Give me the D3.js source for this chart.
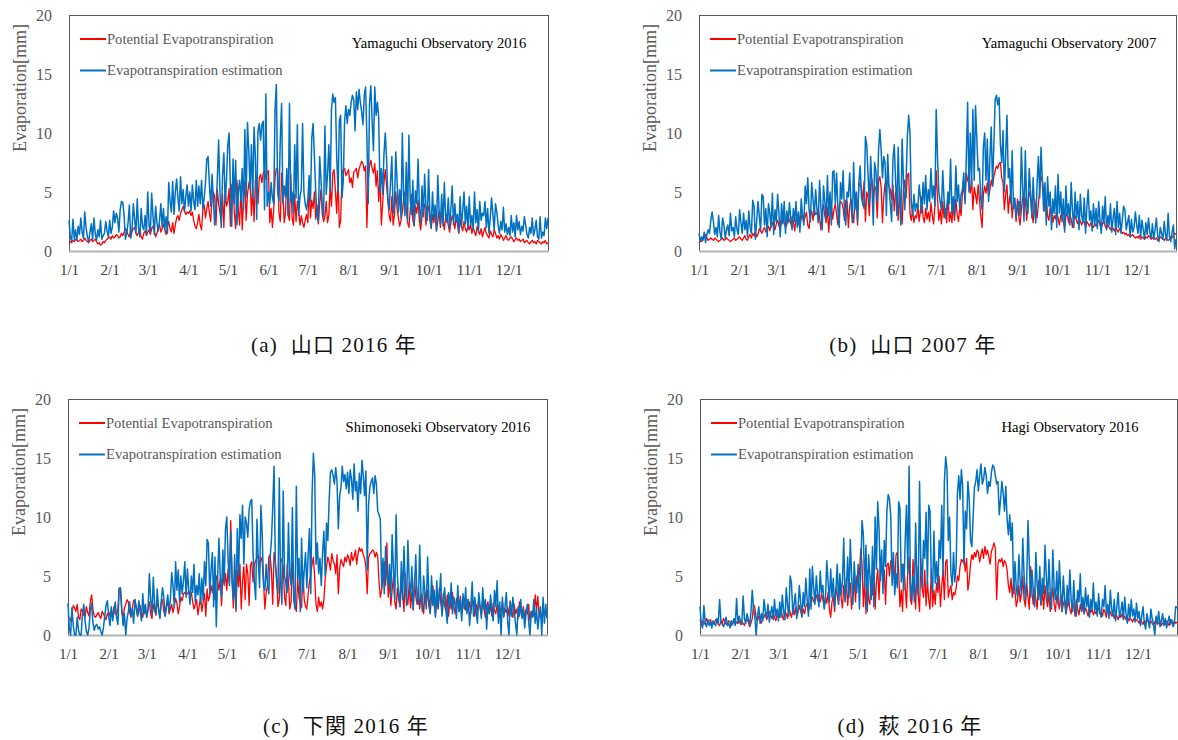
<!DOCTYPE html>
<html>
<head>
<meta charset="utf-8">
<script src="https://cdnjs.cloudflare.com/ajax/libs/d3/7.8.5/d3.min.js"></script>
<style>
  body { margin: 0; background: #fff; }
  svg text { font-family: "Liberation Serif", "Times New Roman", serif; }
  svg text.caption { font-family: "Liberation Serif", "Noto Sans CJK JP", serif; }
</style>
</head>
<body>
<svg width="1178" height="740"></svg>
<script>
// Daily values, one line per month (mm/day)

// (a) Yamaguchi 2016
var petYamaguchi2016 = [
  0.7,0.8,0.7,0.9,0.8,1.0,0.9,0.8,0.9,1.0,0.8,0.9,1.1,0.9,0.8,0.7,0.9,1.0,0.8,0.9,1.0,0.8,0.6,0.7,0.5,0.6,0.8,0.7,0.9,1.0,1.1,
  1.2,1.0,1.3,1.1,1.2,1.4,1.3,1.1,1.2,1.5,1.3,1.6,1.9,1.7,1.4,1.2,1.8,1.6,1.9,2.0,1.5,1.3,1.6,1.8,1.2,1.0,1.5,1.7,1.3,
  1.6,1.8,1.4,1.9,2.1,1.7,1.2,1.5,2.0,2.2,1.6,1.9,2.3,1.8,1.4,2.1,2.5,1.9,1.6,2.4,1.5,2.2,2.8,3.0,2.6,3.2,3.5,3.8,3.4,3.1,3.3,
  3.2,3.4,3.0,3.3,2.6,2.1,1.9,2.4,3.1,2.2,1.8,3.5,3.9,2.8,3.6,4.2,3.2,2.5,4.4,5.0,4.6,2.2,5.2,4.0,3.3,2.4,4.8,2.0,5.4,3.8,
  4.2,5.3,2.1,5.6,5.8,3.2,1.9,6.0,3.5,2.2,5.5,1.8,4.4,5.9,2.6,4.8,5.7,6.1,3.0,5.4,2.5,6.0,6.3,4.0,6.2,6.5,5.8,6.6,6.9,6.1,6.7,
  6.8,2.4,3.6,2.0,3.5,6.2,7.0,6.9,3.2,2.5,6.6,5.0,2.4,3.3,6.4,3.0,2.6,6.5,2.8,2.2,4.8,2.5,4.2,3.4,2.2,3.0,2.4,2.0,2.6,3.1,
  2.4,5.5,2.8,4.3,3.6,5.0,2.7,3.9,2.3,4.0,5.2,3.1,2.5,2.9,4.2,2.4,3.0,5.5,3.8,6.6,6.9,5.1,3.2,6.3,2.0,2.6,6.5,6.9,7.0,6.4,6.6,
  6.9,5.8,6.2,5.4,6.7,6.8,7.0,6.2,6.9,7.3,7.6,7.4,6.8,7.2,2.0,6.0,7.2,7.7,7.0,6.6,7.4,5.5,6.8,4.2,6.3,2.2,4.0,5.8,6.9,5.5,4.2,
  3.0,2.5,4.6,2.2,3.1,5.0,3.6,2.8,2.1,2.6,3.3,4.5,5.0,3.7,2.4,2.0,3.4,4.8,2.6,2.1,3.8,3.2,4.3,2.5,1.8,2.9,3.6,4.0,2.2,3.4,
  3.8,2.6,1.9,3.1,2.4,3.6,1.7,2.5,3.4,2.0,3.3,2.7,1.8,2.9,3.1,2.2,1.6,2.4,3.0,2.6,1.9,2.8,2.3,1.5,2.7,2.1,1.7,2.5,1.9,1.6,2.2,
  1.8,2.3,1.5,2.0,1.6,1.3,2.1,1.7,1.4,1.9,1.2,1.6,2.0,1.5,1.3,1.1,1.7,1.4,1.2,1.8,1.5,1.1,1.3,1.0,1.4,1.2,0.9,1.1,1.3,1.0,
  0.9,1.1,1.2,1.0,0.8,1.0,1.1,0.9,1.0,0.8,0.9,1.0,0.7,0.8,0.9,0.7,0.6,0.8,0.9,0.7,0.8,0.6,0.9,0.8,0.7,0.6,0.8,0.7,0.9,0.6,0.7
];
var estYamaguchi2016 = [
  2.6,1.2,0.8,2.7,1.0,1.8,0.9,2.1,1.4,2.8,1.6,1.1,3.3,2.0,1.2,0.8,1.6,2.3,1.0,2.8,1.5,0.9,1.8,1.2,2.6,1.0,1.3,1.5,2.5,1.7,1.2,
  2.6,1.5,2.0,3.4,2.4,3.2,2.8,1.6,3.5,4.2,4.1,3.0,1.0,1.5,2.4,3.9,1.1,1.8,4.0,2.7,1.5,4.4,2.0,1.2,3.6,2.1,1.8,3.0,1.4,
  5.0,2.2,1.6,4.9,3.0,1.4,3.8,2.4,1.7,2.6,4.0,2.0,3.6,1.8,2.9,1.5,5.8,4.2,3.3,5.9,3.1,5.0,6.1,4.5,3.4,6.3,4.0,5.2,3.3,4.6,5.6,
  3.8,5.0,3.4,5.6,4.2,3.5,6.0,3.8,5.5,4.0,6.0,3.6,4.5,5.8,7.8,8.0,5.6,3.8,6.5,4.3,2.2,3.9,6.0,9.4,5.1,2.0,6.4,8.3,4.0,6.0,
  9.0,10.0,5.4,2.1,7.8,4.0,7.7,2.2,5.0,6.0,4.2,7.0,3.5,10.3,4.6,10.9,8.5,5.2,9.0,4.5,10.5,8.0,2.7,10.2,10.8,9.4,10.7,11.0,3.5,13.3,3.8,
  5.0,4.0,5.8,4.5,4.0,12.0,14.1,5.0,4.2,9.5,12.5,4.0,5.5,4.6,7.0,3.0,12.5,4.2,5.0,3.2,9.0,4.5,10.7,3.0,4.6,5.2,10.8,5.0,4.0,3.5,
  4.3,6.4,4.2,9.6,10.8,8.0,5.0,3.0,2.5,8.0,6.1,3.8,2.9,10.6,4.8,6.5,9.0,5.0,12.0,13.3,12.6,13.0,8.0,5.0,11.0,11.5,4.5,6.0,11.0,12.3,10.8,
  12.0,11.5,12.6,13.2,12.8,10.2,13.5,12.0,13.7,12.6,11.8,10.7,13.2,13.9,9.6,4.0,12.5,14.0,11.0,8.5,13.9,11.5,12.6,11.3,5.0,7.0,4.8,8.2,10.0,7.8,4.4,
  3.5,5.8,8.0,3.2,4.0,8.4,5.9,3.3,5.2,2.8,10.0,4.6,3.0,7.5,2.5,9.8,4.3,3.1,6.0,2.2,5.1,4.0,7.8,3.6,2.4,5.5,2.9,6.5,3.8,2.6,
  6.9,3.2,2.0,5.0,2.8,3.9,1.7,6.4,3.5,2.3,4.8,2.1,5.8,3.0,2.4,4.5,1.9,3.6,5.5,2.2,4.0,2.5,3.1,1.6,4.6,2.0,3.4,5.0,2.3,3.8,1.8,
  4.6,2.2,3.0,1.8,5.0,2.4,3.5,1.6,4.2,2.6,3.2,3.0,4.2,2.0,3.6,1.5,2.8,4.5,3.1,1.8,4.0,3.3,2.2,1.5,2.5,1.8,3.7,1.6,2.3,1.4,
  2.0,1.3,3.0,1.6,2.4,1.2,3.0,1.8,2.5,1.4,2.1,1.7,2.9,2.2,1.4,1.1,2.0,1.5,2.8,1.3,1.8,2.6,1.2,1.0,2.9,1.1,1.6,1.3,2.8,1.9,2.8
];

// (b) Yamaguchi 2007
var petYamaguchi2007 = [
  0.7,0.9,0.8,1.0,1.2,1.4,1.1,0.9,1.0,1.1,1.0,0.9,1.1,1.0,0.9,0.8,0.9,1.0,1.1,0.9,1.0,1.1,1.0,0.9,0.8,0.9,1.0,1.1,0.9,1.0,1.1,
  1.2,1.0,0.9,1.1,1.3,1.0,0.9,1.2,1.4,1.1,1.5,1.3,1.6,1.2,1.4,1.9,1.7,1.5,1.8,2.0,1.6,1.9,2.1,1.7,2.2,2.4,2.0,1.8,
  2.3,2.6,2.1,1.9,2.5,2.8,2.4,2.0,2.2,3.0,2.6,2.3,2.9,2.5,1.7,2.7,3.1,2.4,2.0,2.8,3.2,2.5,2.9,3.3,2.2,1.9,3.0,3.4,2.6,3.5,3.1,
  3.2,3.6,2.8,1.8,3.4,3.9,3.0,2.4,3.7,1.6,3.3,3.8,2.7,3.5,4.0,3.1,2.2,3.9,4.2,4.1,3.6,2.6,4.3,4.2,2.0,3.8,4.4,3.3,2.4,4.0,
  4.5,2.2,5.8,5.6,5.4,4.1,5.9,2.5,5.0,4.6,3.0,5.6,6.1,4.4,5.5,5.2,2.8,5.9,6.3,5.4,2.4,4.6,5.7,6.0,5.8,5.5,5.2,4.4,5.6,3.4,5.0,
  4.8,2.6,5.5,3.5,2.3,5.2,6.0,4.5,6.4,6.6,3.2,2.6,3.5,2.4,3.0,2.8,3.9,2.5,3.4,4.6,2.9,2.4,3.6,2.7,3.3,2.5,4.1,3.0,2.3,3.8,
  6.8,4.5,2.6,3.5,2.3,4.2,2.8,3.6,2.4,4.8,2.5,3.3,2.4,3.9,2.6,4.4,3.1,2.5,3.8,3.0,4.9,5.5,4.3,6.6,6.0,5.7,4.9,6.2,3.5,5.4,4.8,
  4.0,5.6,4.4,3.0,2.0,4.8,5.5,4.9,5.8,4.6,5.2,6.0,5.5,6.3,6.8,7.2,7.0,7.4,7.5,6.2,5.8,3.5,4.8,5.6,3.2,4.5,5.0,2.8,4.2,3.9,2.5,
  4.4,3.0,2.2,3.5,4.6,4.0,4.5,2.6,3.9,5.0,4.6,3.2,2.4,4.4,3.6,2.8,4.0,5.2,6.3,6.0,5.1,3.4,4.3,3.0,2.6,3.7,3.2,2.4,3.0,2.7,
  3.4,2.8,2.2,3.0,3.2,2.5,1.9,2.9,3.3,2.4,3.1,2.7,2.0,2.8,3.0,2.6,2.3,2.9,2.5,2.2,2.6,2.4,2.0,2.5,2.3,2.1,2.4,2.2,2.0,2.3,2.1,
  2.4,2.6,2.2,2.0,2.3,2.5,2.1,1.9,2.2,2.0,1.8,2.1,1.9,1.7,2.0,1.8,1.6,1.9,1.7,1.5,1.6,1.4,1.5,1.3,1.4,1.2,1.3,1.4,1.2,1.1,
  1.2,1.1,1.3,1.0,1.2,1.1,1.0,1.2,1.1,1.3,1.2,1.0,1.1,1.2,1.0,1.1,0.9,1.0,1.2,1.1,1.0,0.9,1.1,1.0,0.9,1.0,1.2,1.1,1.3,1.5,1.4
];
var estYamaguchi2007 = [
  1.5,0.8,1.2,0.9,1.6,0.7,1.4,1.8,1.5,2.6,3.3,2.5,1.4,2.0,1.2,3.0,1.6,1.0,2.8,2.2,1.1,1.8,2.2,1.3,3.2,1.7,2.0,1.2,2.9,1.8,1.4,
  3.5,2.4,1.5,3.2,1.8,2.6,1.2,3.4,2.0,1.5,4.3,3.8,1.0,2.5,4.2,3.0,1.7,4.8,4.6,2.2,3.6,1.2,4.0,3.2,2.0,4.9,1.4,3.5,
  2.5,4.8,3.2,1.2,4.0,2.3,4.2,1.5,3.4,2.4,4.1,2.8,1.8,3.6,2.5,4.2,2.0,3.3,1.6,4.4,3.0,2.2,5.5,4.0,6.2,3.5,2.5,5.8,4.4,3.0,5.2,
  3.6,2.4,6.0,3.8,1.8,5.5,4.2,2.6,6.4,3.0,5.0,2.2,6.7,6.8,4.0,6.6,3.5,2.0,5.8,4.4,6.8,3.3,2.2,5.0,4.6,6.6,4.0,2.4,7.5,3.5,
  5.0,2.5,5.8,7.2,4.5,4.0,3.6,9.7,9.0,6.5,4.0,8.0,5.5,2.2,7.5,6.8,4.2,8.5,10.3,8.5,6.2,8.0,7.5,3.0,8.2,5.4,4.0,2.5,7.8,9.0,6.0,
  3.0,8.8,4.5,2.2,9.5,6.0,3.5,5.8,9.7,11.5,10.0,4.2,3.0,4.8,3.4,4.0,3.6,5.6,4.5,3.2,5.8,4.0,6.4,3.5,5.2,4.2,7.0,4.5,5.5,3.8,
  12.0,8.0,5.0,4.2,3.5,6.8,4.4,2.8,3.6,5.0,4.0,7.8,3.2,4.6,3.0,7.2,4.2,5.6,3.5,4.8,5.2,6.6,4.0,8.0,12.6,5.0,10.0,5.5,12.0,6.0,12.3,
  9.5,6.8,7.0,4.5,3.5,8.8,10.0,6.0,9.5,4.2,8.0,10.5,5.5,9.0,12.8,13.2,12.4,13.0,9.0,7.5,10.2,5.0,8.0,11.5,6.2,7.0,4.0,8.5,3.6,4.5,2.8,
  3.8,4.2,3.0,8.8,5.5,2.5,8.5,4.0,3.2,7.0,5.0,2.8,6.2,3.6,2.4,5.8,8.0,4.5,8.8,6.0,3.4,5.8,2.2,6.3,3.8,5.0,1.8,4.4,3.2,5.5,
  2.0,6.5,3.2,5.0,2.5,4.4,1.6,5.5,3.0,4.0,2.2,5.8,3.4,2.0,5.0,2.8,4.2,1.8,4.8,3.0,2.4,4.5,1.5,3.8,5.2,2.6,3.4,1.7,4.0,2.2,3.6,
  1.9,4.2,2.6,1.5,3.8,2.4,4.6,1.8,3.0,2.2,4.0,1.6,2.8,3.6,1.4,4.2,2.0,3.2,1.5,2.6,3.8,3.5,1.8,2.4,3.0,1.2,2.7,1.6,2.0,3.3,
  2.2,1.5,3.0,1.2,2.6,1.8,1.0,2.4,1.4,2.8,1.6,1.1,2.3,1.0,1.8,2.8,1.3,0.8,2.0,1.5,1.0,2.5,1.4,0.9,3.2,1.2,0.8,1.6,2.2,0.2,1.0
];

// (c) Shimonoseki 2016
var petShimonoseki2016 = [
  1.6,1.4,1.2,1.8,2.5,2.3,2.0,2.6,1.5,1.3,2.2,2.0,1.7,1.5,2.4,1.9,1.6,2.8,3.4,2.2,1.6,1.5,1.7,1.9,1.6,1.4,2.0,1.8,1.5,1.3,1.8,
  1.6,1.9,2.1,1.5,2.4,1.8,1.7,2.2,4.0,3.8,1.9,1.5,2.3,2.6,3.0,2.8,1.9,1.5,2.3,2.9,3.0,2.2,1.6,2.0,2.5,1.9,1.5,2.4,2.0,
  1.6,2.2,2.8,1.8,1.4,2.6,2.1,1.7,2.9,2.3,1.5,2.7,3.0,2.0,1.6,2.4,2.9,1.8,2.2,2.6,1.9,2.5,3.1,2.7,1.8,2.4,3.2,2.9,3.5,3.6,3.4,
  3.5,3.7,3.3,3.6,2.8,2.2,2.6,3.0,1.7,2.5,3.2,2.0,2.8,3.5,1.6,3.9,2.9,3.3,4.2,3.6,4.5,3.0,5.0,4.6,3.8,4.8,2.5,5.4,4.2,5.2,
  3.8,5.6,4.4,9.7,5.0,2.3,4.8,2.0,5.5,4.1,6.0,2.2,4.6,5.8,3.0,6.0,5.2,2.5,5.9,6.2,4.5,6.0,6.3,6.5,6.8,5.7,6.6,6.2,4.5,2.2,3.6,
  4.2,6.6,6.8,5.5,2.6,7.0,6.2,4.8,2.4,3.0,6.5,6.3,5.8,3.2,2.5,6.0,4.5,2.2,2.8,6.2,3.8,2.4,2.0,4.8,3.2,2.6,2.3,5.4,3.0,2.4,
  2.2,3.5,4.5,5.2,6.0,6.6,4.8,2.6,2.0,3.2,2.4,2.8,2.2,3.0,4.8,5.8,6.6,6.2,5.5,6.9,6.3,6.0,5.2,6.8,3.5,5.6,6.4,6.1,5.8,6.6,6.2,
  6.8,6.5,5.9,7.0,6.3,6.6,7.2,6.0,6.9,7.4,7.1,7.3,6.8,6.5,5.8,3.5,6.5,6.9,7.0,7.2,7.1,6.6,7.0,6.7,4.5,3.2,3.8,5.0,6.2,4.2,7.8,
  3.2,4.6,2.5,3.8,5.0,2.8,2.2,4.0,3.0,2.4,4.2,3.5,2.0,5.2,3.1,2.6,4.4,2.3,3.6,2.1,4.8,3.3,2.6,4.0,2.2,3.5,2.9,1.8,3.6,2.7,
  3.8,2.4,1.9,3.2,4.2,2.6,1.7,3.0,2.3,4.0,2.8,1.8,3.5,2.5,2.0,3.4,1.6,2.9,2.2,3.6,2.4,1.8,3.1,2.6,2.0,3.3,1.7,2.5,2.9,2.1,3.0,
  2.2,2.8,1.8,3.1,2.4,1.6,2.6,2.0,3.0,2.3,1.7,2.9,2.2,1.5,2.5,2.8,1.9,2.4,1.6,2.7,2.1,1.8,2.6,1.4,2.3,2.0,2.8,1.5,2.2,1.9,
  2.4,1.6,2.9,2.0,1.5,2.6,1.8,2.2,1.4,2.8,2.0,1.5,2.4,1.3,2.2,1.8,2.6,1.2,2.0,2.0,1.6,3.4,2.1,3.3,1.5,1.9,1.2,2.4,1.6,2.0,1.5
];
var estShimonoseki2016 = [
  2.7,0.6,0.0,2.3,0.8,0.0,0.0,1.5,0.4,0.0,0.0,1.8,2.6,1.2,0.3,0.0,0.6,2.1,2.7,1.0,0.4,0.8,0.9,0.5,0.7,0.3,0.0,0.6,1.6,2.5,2.9,
  1.6,0.8,2.4,1.2,2.0,2.8,1.5,0.9,3.9,4.0,2.2,0.8,1.8,0.0,1.4,2.0,2.8,1.6,2.2,1.0,3.0,2.4,1.6,2.9,2.0,1.2,3.5,1.8,2.6,
  1.5,2.2,5.2,3.0,1.8,4.9,2.5,1.7,3.9,2.2,1.4,2.8,4.0,3.2,1.6,2.5,3.4,2.0,3.0,5.3,4.2,2.4,6.2,3.8,5.5,2.8,5.0,3.5,4.6,6.2,3.2,
  5.6,3.8,2.6,5.0,3.6,6.0,2.8,4.2,3.4,5.2,2.6,4.8,3.0,6.2,4.2,8.1,7.8,3.5,5.5,7.0,2.4,6.6,0.7,4.8,8.2,5.0,3.2,7.2,4.4,9.0,
  10.0,6.4,4.2,8.8,4.5,3.0,6.8,2.2,9.0,5.0,10.2,8.2,11.0,6.0,10.0,9.5,8.3,10.6,11.3,11.5,7.0,4.5,3.0,9.8,6.2,4.0,11.0,8.5,4.2,3.8,6.0,
  4.3,3.5,6.5,8.0,10.8,14.3,6.0,4.5,3.5,13.3,4.5,2.6,12.2,5.0,4.4,3.6,9.5,5.0,4.2,10.8,3.0,2.2,12.6,4.8,6.5,2.0,8.2,3.6,5.5,7.0,
  4.0,6.8,9.0,3.5,12.0,15.4,13.5,6.0,7.8,5.2,6.5,4.2,7.0,8.8,5.0,9.5,8.0,11.5,13.8,14.0,13.5,12.8,14.2,13.0,9.0,11.8,12.5,14.3,13.0,13.6,12.4,
  13.8,12.0,14.0,13.2,11.5,14.5,12.2,13.0,10.5,13.7,12.0,14.8,13.5,11.8,13.9,5.5,11.0,12.5,13.0,13.3,12.0,13.5,12.8,10.5,10.2,9.8,4.0,6.5,3.5,7.5,5.0,
  4.2,6.0,3.2,8.5,5.5,3.0,10.2,5.0,3.5,2.4,6.2,3.0,7.5,4.2,2.5,8.0,4.6,3.2,5.8,2.2,4.0,6.8,3.0,2.6,7.6,3.4,2.0,5.0,3.6,2.2,
  6.6,3.2,1.8,5.0,2.5,3.8,1.5,4.6,2.2,3.4,5.2,1.6,3.0,4.0,2.0,1.0,3.6,2.4,4.4,1.8,3.2,2.6,1.4,4.2,2.0,3.0,1.2,3.5,2.2,4.0,1.8,
  3.0,0.8,2.4,4.5,1.6,3.2,2.0,1.0,3.6,2.5,1.4,4.0,2.2,3.0,0.5,2.6,1.8,3.4,2.0,1.2,3.8,2.4,4.6,1.0,2.8,0.0,3.2,1.6,2.4,3.6,
  1.2,0.0,2.8,1.6,3.2,2.0,1.0,0.0,2.4,1.6,3.0,1.4,2.2,0.6,1.8,2.6,1.2,0.0,2.0,1.5,3.0,1.0,2.2,0.5,1.6,2.4,0.0,3.2,1.0,2.6,1.4
];

// (d) Hagi 2016
var petHagi2016 = [
  1.3,1.0,1.2,0.9,1.1,1.4,1.0,1.2,1.3,0.9,1.1,1.0,1.3,1.2,0.9,0.8,1.2,1.0,1.4,1.1,0.9,1.0,1.2,1.1,0.8,1.0,1.2,0.9,1.1,1.0,1.2,
  0.9,1.1,1.0,0.8,1.2,1.3,1.1,0.7,1.0,1.4,2.6,2.3,1.4,1.2,1.6,1.3,1.0,1.4,1.5,1.8,1.3,1.6,2.0,1.7,1.4,1.9,1.5,1.2,1.7,
  1.8,1.5,2.2,1.6,1.3,2.0,1.8,1.4,2.4,1.9,1.5,2.1,1.7,2.3,1.6,1.9,2.5,2.0,1.6,2.2,1.8,2.4,2.7,2.0,2.5,3.0,3.2,2.8,3.1,3.4,2.9,
  3.3,2.8,3.5,3.0,2.4,3.2,2.7,3.6,2.2,1.5,2.8,3.3,2.0,4.0,3.4,2.6,4.5,3.1,2.3,4.2,3.0,4.8,2.5,3.8,4.4,2.2,3.6,4.6,2.8,5.0,
  4.2,5.2,7.3,6.0,2.4,4.8,1.8,5.5,3.0,2.6,5.0,3.4,6.2,2.2,4.5,5.6,3.0,5.8,6.0,4.6,5.5,2.6,5.9,6.1,5.0,6.3,5.6,6.0,4.2,6.8,7.0,
  5.5,2.4,3.8,2.0,6.0,4.2,2.3,5.5,6.6,3.0,2.6,6.4,4.8,2.2,5.8,3.4,2.0,6.5,4.0,3.2,5.5,2.5,4.6,3.0,2.2,5.6,2.4,3.8,2.6,4.4,
  3.6,5.0,2.4,4.2,5.5,3.0,6.2,6.4,3.2,3.8,4.2,3.0,3.6,3.4,4.0,5.0,4.6,5.8,6.4,6.2,6.6,5.4,6.5,3.8,4.6,6.0,6.8,6.4,7.0,6.6,7.2,
  7.0,6.2,6.8,7.3,6.5,7.5,6.8,7.2,6.6,6.0,7.1,7.4,7.8,7.3,3.0,6.0,6.4,6.2,6.5,5.8,6.3,6.1,5.5,4.2,3.6,4.8,3.2,4.5,3.8,2.4,3.0,
  4.2,2.8,3.5,5.0,3.0,2.4,4.4,3.2,2.2,5.8,3.6,2.6,4.0,3.0,2.2,4.6,3.4,2.5,3.8,2.2,4.2,3.0,2.4,3.6,2.0,3.2,4.0,2.6,2.0,3.4,
  2.8,2.2,3.5,2.0,2.6,3.0,1.8,2.4,3.2,2.2,1.8,2.8,2.4,1.6,3.0,2.2,1.7,2.6,2.0,2.5,1.8,2.3,2.0,1.6,2.4,1.9,2.2,1.7,2.0,1.8,2.1,
  2.3,1.8,2.0,1.6,2.2,1.9,1.5,2.4,1.7,2.0,1.6,1.9,1.4,1.8,1.6,1.3,1.7,1.5,1.8,1.4,1.6,1.3,1.5,1.2,1.4,1.3,1.1,1.4,1.2,1.3,
  1.2,1.0,1.3,1.1,0.9,1.2,1.0,1.4,1.1,0.9,1.2,1.0,0.8,1.1,1.3,0.9,1.0,1.2,0.8,1.0,1.1,0.9,1.2,1.0,0.8,1.3,1.1,0.9,1.2,1.0,1.1
];
var estHagi2016 = [
  2.4,0.9,0.6,2.5,1.0,0.7,1.3,0.8,1.1,0.6,1.2,0.9,0.8,1.4,1.0,3.0,1.2,0.9,0.7,1.1,1.5,0.8,1.0,0.6,1.2,0.9,1.4,0.8,3.1,1.0,1.6,
  1.2,0.9,3.3,1.4,1.0,1.8,1.3,0.8,2.0,3.8,2.2,1.5,0.0,1.6,2.4,1.0,1.8,1.2,3.0,2.0,1.4,2.6,1.1,1.8,2.4,1.3,3.0,1.6,2.2,
  1.2,2.8,1.5,3.4,2.0,1.3,4.0,2.5,1.6,5.0,4.4,1.8,2.6,3.5,1.4,2.2,4.2,2.8,1.5,3.6,2.4,4.8,3.0,1.6,5.6,2.2,5.8,4.0,2.6,5.0,3.5,
  2.4,5.4,3.6,4.2,2.2,3.0,6.3,4.5,2.8,5.6,3.2,4.8,2.4,3.8,6.0,2.6,5.2,3.4,4.6,8.2,2.8,4.0,6.6,3.2,8.1,5.0,2.6,6.2,4.2,3.6,
  6.0,2.2,5.5,9.7,8.5,4.0,7.6,2.0,6.8,5.0,3.0,7.5,2.4,10.0,5.6,11.3,9.0,4.6,7.2,3.5,8.0,5.8,10.5,11.9,11.5,10.0,4.2,7.0,3.4,5.2,4.0,
  11.3,10.8,4.5,6.0,3.8,8.0,11.0,5.2,14.3,4.5,3.0,5.0,2.8,9.5,4.2,3.4,13.0,5.8,4.0,8.0,6.5,10.4,4.2,11.0,10.5,5.0,3.6,8.8,4.4,6.2,
  4.0,8.0,6.5,11.0,5.0,13.0,15.1,14.0,8.0,10.0,5.2,4.2,7.0,4.5,5.8,12.0,13.5,11.5,14.0,12.6,6.0,10.5,9.0,13.0,11.5,8.0,7.5,10.0,12.5,13.0,14.0,
  12.2,13.5,14.5,12.8,13.2,14.2,13.5,12.0,13.0,12.6,13.8,14.4,14.2,13.5,12.8,13.0,10.2,11.5,13.0,12.0,10.5,12.6,9.8,8.5,10.2,8.0,9.5,3.5,6.2,4.0,3.2,
  6.8,4.5,3.4,8.2,5.0,3.0,4.6,9.7,6.0,3.2,5.5,3.8,2.4,7.0,4.2,3.0,5.8,2.6,4.8,3.5,7.6,5.0,2.8,6.4,3.6,2.2,7.2,4.0,3.0,5.4,
  2.6,6.3,3.5,2.0,5.0,3.0,1.8,4.2,2.5,5.5,3.0,2.0,4.6,2.2,1.6,3.8,2.8,5.2,2.0,3.2,1.8,4.0,2.4,3.4,1.5,3.0,2.2,4.4,2.0,2.8,1.6,
  3.5,2.0,1.5,3.0,2.4,4.2,1.8,2.6,1.4,3.8,2.2,1.6,3.0,1.2,2.4,3.6,1.5,2.0,2.8,1.3,3.2,1.8,1.0,2.6,1.4,3.0,1.6,2.2,1.1,2.7,
  1.4,2.0,0.8,1.6,2.4,1.0,0.5,1.8,1.2,0.6,2.2,1.4,0.9,0.0,1.6,1.0,2.0,0.7,1.2,1.8,0.8,1.4,0.6,1.1,1.6,0.9,1.3,0.7,1.0,2.4,2.3
];

var yTicks = [0, 5, 10, 15, 20];
var seriesNames = ["Potential Evapotranspiration", "Evapotranspiration estimation"];
var seriesColors = ["#ff0000", "#0070c0"];

// panel layout
var panels = [
  { year: 2016, pet: petYamaguchi2016, est: estYamaguchi2016, title: "Yamaguchi Observatory 2016",
    caption: "(a)  山口 2016 年", left: 69, top: 15, right: 548, bottom: 251, capX: 334, capY: 345 },
  { year: 2007, pet: petYamaguchi2007, est: estYamaguchi2007, title: "Yamaguchi Observatory 2007",
    caption: "(b)  山口 2007 年", left: 699, top: 15, right: 1176, bottom: 251, capX: 913, capY: 345 },
  { year: 2016, pet: petShimonoseki2016, est: estShimonoseki2016, title: "Shimonoseki Observatory 2016",
    caption: "(c)  下関 2016 年", left: 68, top: 399, right: 547, bottom: 635, capX: 346, capY: 726 },
  { year: 2016, pet: petHagi2016, est: estHagi2016, title: "Hagi Observatory 2016",
    caption: "(d)  萩 2016 年", left: 700, top: 399, right: 1177, bottom: 635, capX: 910, capY: 726 }
];

var svg = d3.select("svg");

panels.forEach(function(p) {
  var start = new Date(p.year, 0, 1);
  var x = d3.scaleTime()
    .domain([start, new Date(p.year, 11, 31)])
    .range([p.left, p.right]);
  var y = d3.scaleLinear()
    .domain([0, 20])
    .range([p.bottom, p.top]);

  var g = svg.append("g");

  // y axis labels
  var yAxis = g.append("g")
    .attr("transform", "translate(" + p.left + ",0)")
    .call(d3.axisLeft(y).tickValues(yTicks).tickSize(0).tickPadding(17));
  yAxis.select(".domain").remove();
  yAxis.selectAll("text").attr("font-size", 16).attr("fill", "#595959");

  // x axis labels (first of every month)
  var months = d3.timeMonth.range(start, new Date(p.year, 11, 2));
  var xAxis = g.append("g")
    .attr("transform", "translate(0," + p.bottom + ")")
    .call(d3.axisBottom(x).tickValues(months).tickFormat(d3.timeFormat("%-m/%-d")).tickSize(0).tickPadding(13));
  xAxis.select(".domain").remove();
  xAxis.selectAll("text").attr("font-size", 15).attr("fill", "#404040");

  // plot frame
  g.append("rect")
    .attr("x", p.left + 0.5).attr("y", p.top + 0.5)
    .attr("width", p.right - p.left).attr("height", p.bottom - p.top)
    .attr("fill", "none").attr("stroke", "#595959").attr("stroke-width", 1);
  g.append("line")
    .attr("x1", p.left).attr("x2", p.right + 1)
    .attr("y1", p.bottom + 0.5).attr("y2", p.bottom + 0.5)
    .attr("stroke", "#b3b3b3").attr("stroke-width", 2);

  // lines
  var line = d3.line()
    .x(function(d, i) { return x(d3.timeDay.offset(start, i)); })
    .y(function(d) { return y(d); });

  [p.pet, p.est].forEach(function(vals, k) {
    g.append("path")
      .datum(vals)
      .attr("d", line)
      .attr("fill", "none")
      .attr("stroke", seriesColors[k])
      .attr("stroke-width", k == 0 ? 1.3 : 1.5)
      .attr("stroke-linejoin", "round");
  });

  // legend
  seriesNames.forEach(function(name, k) {
    var ly = p.top + 24 + k * 31.5;
    g.append("line")
      .attr("x1", p.left + 11).attr("x2", p.left + 37)
      .attr("y1", ly).attr("y2", ly)
      .attr("stroke", seriesColors[k]).attr("stroke-width", 2);
    g.append("text")
      .attr("x", p.left + 38).attr("y", ly)
      .attr("dy", "0.33em")
      .attr("font-size", 14.6)
      .attr("fill", "#595959")
      .text(name);
  });

  // station title
  g.append("text")
    .attr("x", p.left + 370).attr("y", p.top + 28)
    .attr("dy", "0.33em")
    .attr("text-anchor", "middle")
    .attr("font-size", 14.6)
    .attr("fill", "#000")
    .text(p.title);

  // y title
  g.append("text")
    .attr("transform", "translate(" + (p.left - 49) + "," + (p.top + 73) + ") rotate(-90)")
    .attr("dy", "0.33em")
    .attr("text-anchor", "middle")
    .attr("font-size", 18)
    .attr("fill", "#595959")
    .text("Evaporation[mm]");

  // caption
  g.append("text")
    .attr("class", "caption")
    .attr("x", p.capX).attr("y", p.capY)
    .attr("dy", "0.35em")
    .attr("text-anchor", "middle")
    .attr("font-size", 21)
    .attr("letter-spacing", 1.2)
    .attr("fill", "#111")
    .style("white-space", "pre")
    .text(p.caption);
});
</script>
</body>
</html>
